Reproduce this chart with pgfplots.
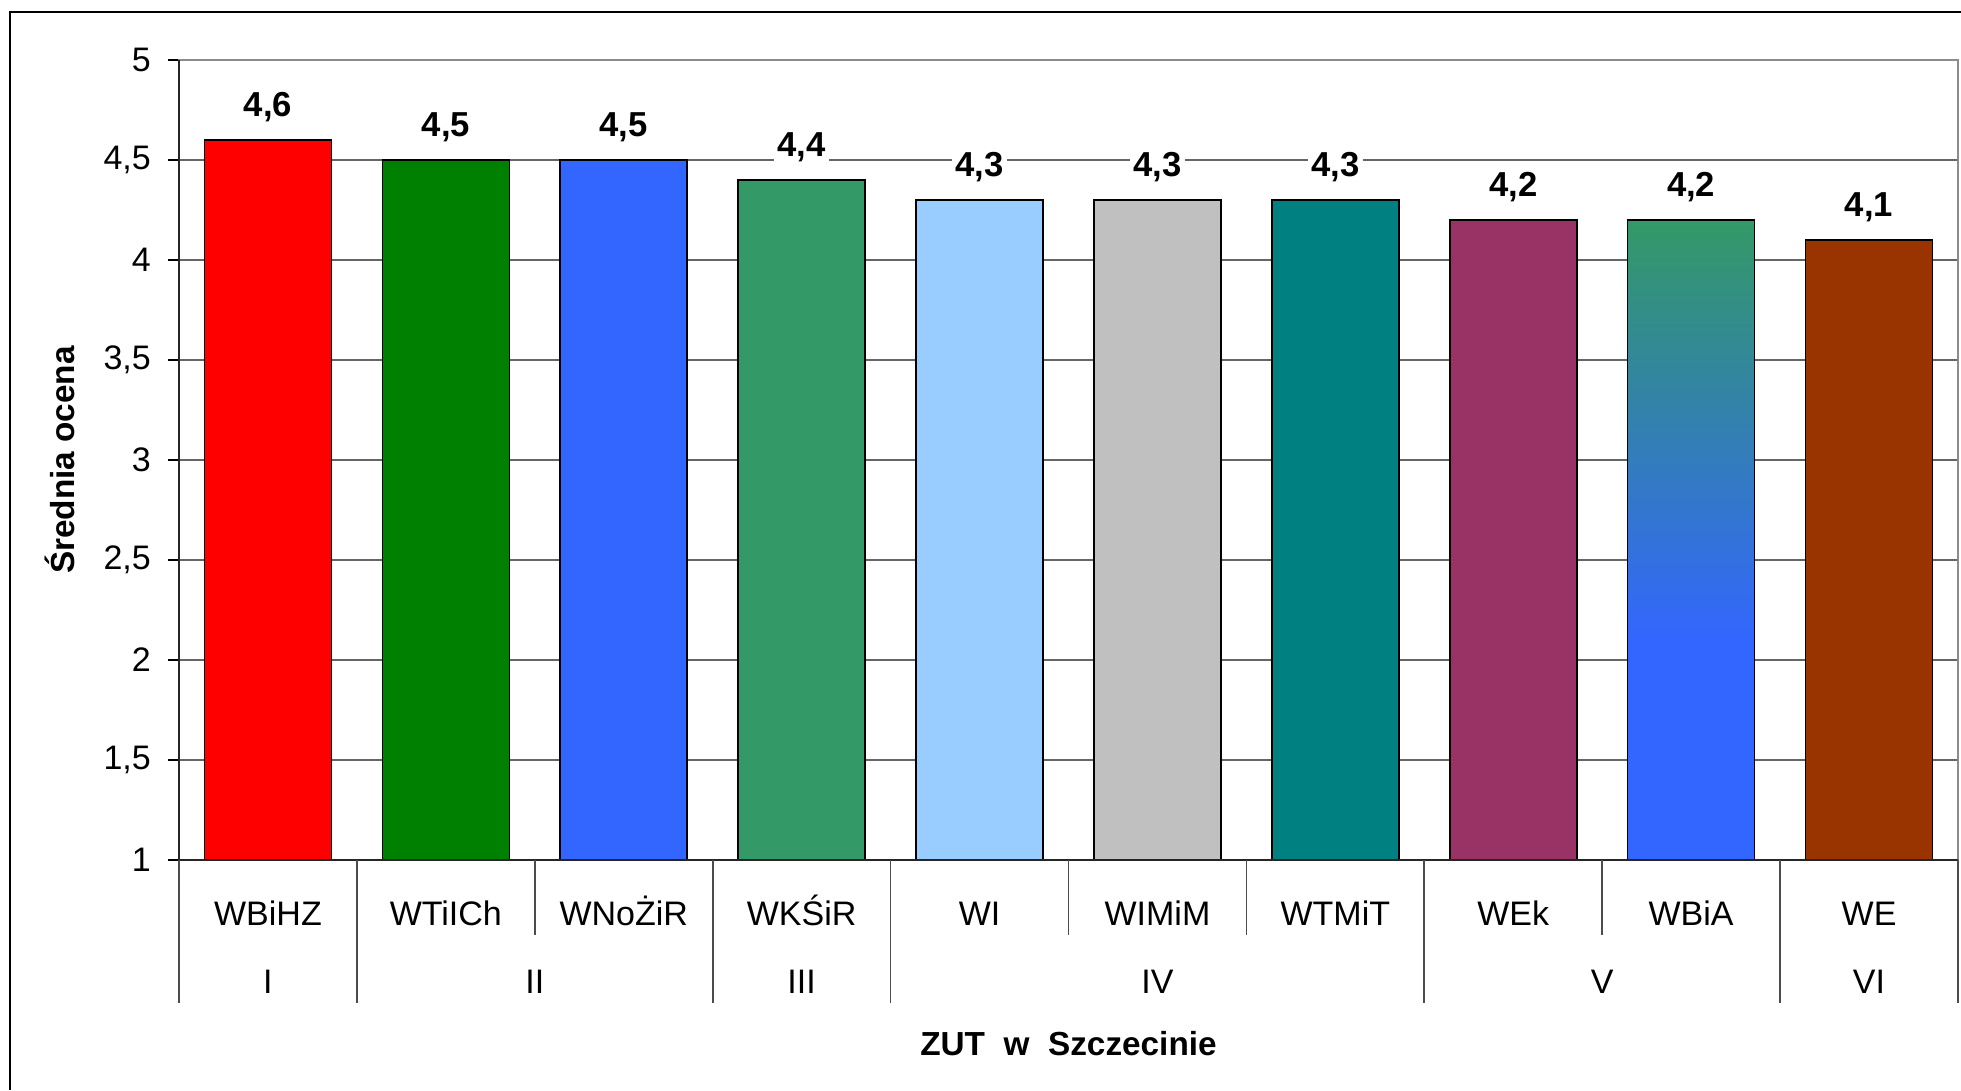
\documentclass[border=0pt]{standalone}
\usepackage{pgfplots}
\pgfplotsset{compat=1.18}
\usepackage{fontspec}
\setmainfont{Liberation Sans}
\definecolor{cRed}{HTML}{FF0000}
\definecolor{cGreen}{HTML}{008000}
\definecolor{cBlue}{HTML}{3366FF}
\definecolor{cSea}{HTML}{339966}
\definecolor{cSky}{HTML}{99CCFF}
\definecolor{cSilver}{HTML}{C0C0C0}
\definecolor{cTeal}{HTML}{008080}
\definecolor{cPlum}{HTML}{993366}
\definecolor{cBrown}{HTML}{993300}
\pgfdeclareverticalshading{wbia}{100bp}{color(0bp)=(cBlue); color(42bp)=(cBlue); color(75bp)=(cSea); color(100bp)=(cSea)}
\newcommand{\tfont}{\fontsize{10.2}{12}\selectfont}
\begin{document}
\begin{tikzpicture}
\useasboundingbox (0,0) rectangle (588.3pt,327pt);
\draw[line width=0.7pt] (3pt,0) -- (3pt,323.4pt) -- (592pt,323.4pt);
\begin{axis}[
  at={(53.7pt,69pt)}, anchor=south west,
  scale only axis, width=533.7pt, height=240pt,
  xmin=-0.5, xmax=9.5, ymin=1, ymax=5,
  clip mode=individual,
  ytick={1,1.5,2,2.5,3,3.5,4,4.5,5},
  yticklabels={1,{1,5},2,{2,5},3,{3,5},4,{4,5},5},
  xtick={0,1,2,3,4,5,6,7,8,9},
  xticklabels={WBiHZ,WTiICh,WNoŻiR,WKŚiR,WI,WIMiM,WTMiT,WEk,WBiA,WE},
  ytick pos=left, tick align=outside, major tick length=3.3pt,
  x tick style={draw=none},
  y tick style={black, line width=0.5pt},
  ymajorgrids, major grid style={black!60, line width=0.5pt},
  axis line style={black!45, line width=0.6pt},
  ticklabel style={font=\tfont},
  yticklabel style={anchor=east, inner sep=0pt, xshift=-4.95pt},
  xticklabel style={anchor=base, inner sep=0pt, yshift=-16.3pt},
  xlabel={\bfseries ZUT\ \ w\ \ Szczecinie},
  xlabel style={font=\fontsize{10}{12}\selectfont, at={(axis description cs:0.5,-0.24375)}, anchor=base, inner sep=0pt},
  ylabel={\bfseries Średnia ocena},
  ylabel style={font=\fontsize{10}{12}\selectfont, at={(axis description cs:-0.0585,0.5)}, anchor=base, inner sep=0pt},
  /pgf/number format/assume math mode=true,
  nodes near coords={\pgfmathprintnumber[use comma,fixed,fixed zerofill,precision=1]{\pgfplotspointmeta}},
  every node near coord/.append style={font=\fontsize{10.4}{12}\selectfont\bfseries, anchor=base, yshift=7pt, fill=white, inner sep=1pt, text=black},
  mybar/.style={ybar, bar width=0.714, bar shift=0pt, draw=black, line width=0.5pt},
]
\addplot[mybar, fill=cRed] coordinates {(0,4.6)};
\addplot[mybar, fill=cGreen] coordinates {(1,4.5)};
\addplot[mybar, fill=cBlue] coordinates {(2,4.5)};
\addplot[mybar, fill=cSea] coordinates {(3,4.4)};
\addplot[mybar, fill=cSky] coordinates {(4,4.3)};
\addplot[mybar, fill=cSilver] coordinates {(5,4.3)};
\addplot[mybar, fill=cTeal] coordinates {(6,4.3)};
\addplot[mybar, fill=cPlum] coordinates {(7,4.2)};
\addplot[mybar, shading=wbia] coordinates {(8,4.2)};
\addplot[mybar, fill=cBrown] coordinates {(9,4.1)};
% axis lines
\draw[black!85, line width=0.6pt] (axis cs:-0.5,5) -- (axis cs:-0.5,1) -- (axis cs:9.5,1);
% long separators
\draw[black!70, line width=0.5pt] (axis cs:-0.5,1) -- ([yshift=-42.9pt]axis cs:-0.5,1);
\draw[black!70, line width=0.5pt] (axis cs:0.5,1) -- ([yshift=-42.9pt]axis cs:0.5,1);
\draw[black!70, line width=0.5pt] (axis cs:2.5,1) -- ([yshift=-42.9pt]axis cs:2.5,1);
\draw[black!70, line width=0.5pt] (axis cs:3.5,1) -- ([yshift=-42.9pt]axis cs:3.5,1);
\draw[black!70, line width=0.5pt] (axis cs:6.5,1) -- ([yshift=-42.9pt]axis cs:6.5,1);
\draw[black!70, line width=0.5pt] (axis cs:8.5,1) -- ([yshift=-42.9pt]axis cs:8.5,1);
\draw[black!70, line width=0.5pt] (axis cs:9.5,1) -- ([yshift=-42.9pt]axis cs:9.5,1);
% short separators
\draw[black!70, line width=0.5pt] (axis cs:1.5,1) -- ([yshift=-22.5pt]axis cs:1.5,1);
\draw[black!70, line width=0.5pt] (axis cs:4.5,1) -- ([yshift=-22.5pt]axis cs:4.5,1);
\draw[black!70, line width=0.5pt] (axis cs:5.5,1) -- ([yshift=-22.5pt]axis cs:5.5,1);
\draw[black!70, line width=0.5pt] (axis cs:7.5,1) -- ([yshift=-22.5pt]axis cs:7.5,1);
% group labels
\node[font=\tfont, anchor=base, inner sep=0pt] at ([yshift=-39.9pt]axis cs:0,1) {I};
\node[font=\tfont, anchor=base, inner sep=0pt] at ([yshift=-39.9pt]axis cs:1.5,1) {II};
\node[font=\tfont, anchor=base, inner sep=0pt] at ([yshift=-39.9pt]axis cs:3,1) {III};
\node[font=\tfont, anchor=base, inner sep=0pt] at ([yshift=-39.9pt]axis cs:5,1) {IV};
\node[font=\tfont, anchor=base, inner sep=0pt] at ([yshift=-39.9pt]axis cs:7.5,1) {V};
\node[font=\tfont, anchor=base, inner sep=0pt] at ([yshift=-39.9pt]axis cs:9,1) {VI};
\end{axis}
\end{tikzpicture}
\end{document}
